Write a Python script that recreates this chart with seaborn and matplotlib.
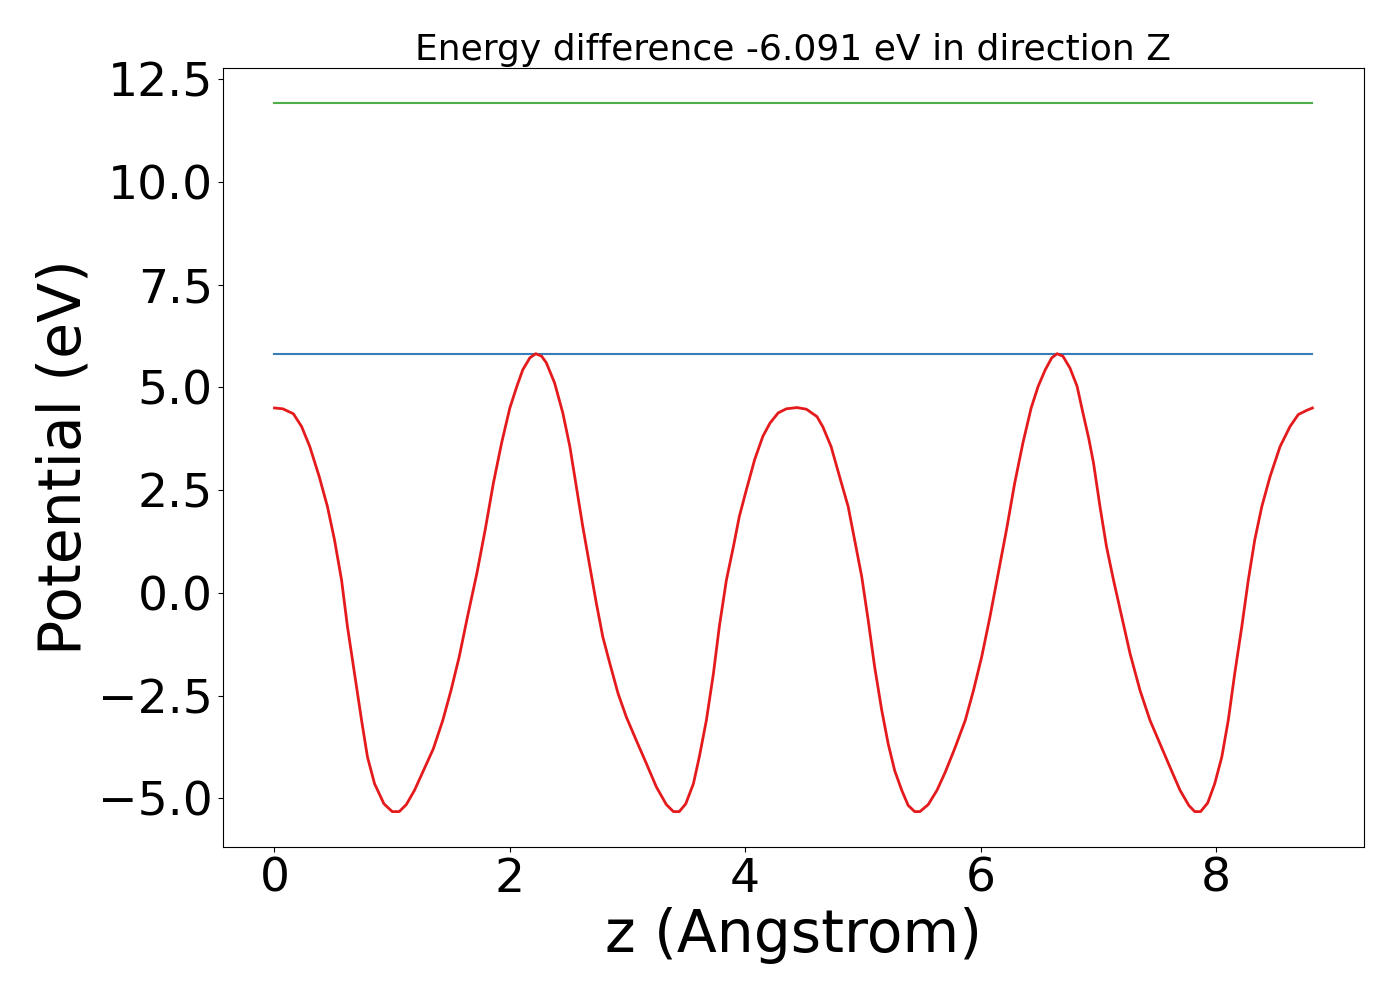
from matplotlib import pyplot as plt
import seaborn as sns
import numpy as np
import pandas as pd

# potential profile
z = [0.00, 0.07, 0.16, 0.23, 0.30, 0.38, 0.45, 0.51, 0.57, 0.62,
     0.68, 0.74, 0.79, 0.85, 0.93, 1.00, 1.06, 1.12, 1.19, 1.26,
     1.35, 1.43, 1.50, 1.57, 1.64, 1.72, 1.79, 1.86, 1.93, 2.00,
     2.06, 2.11, 2.17, 2.22, 2.27, 2.31, 2.38, 2.45, 2.51, 2.565,
     2.62, 2.68, 2.735, 2.79, 2.85, 2.92, 2.99, 3.075, 3.16, 3.245,
     3.33, 3.39, 3.44, 3.495, 3.56, 3.61, 3.67, 3.73, 3.78, 3.84,
     3.90, 3.95, 4.01, 4.08, 4.15, 4.21, 4.28, 4.35, 4.44, 4.52,
     4.61, 4.66, 4.73, 4.80, 4.875, 4.93, 4.99, 5.045, 5.10, 5.16,
     5.215, 5.27, 5.33, 5.385, 5.44, 5.485, 5.555, 5.63, 5.70, 5.78,
     5.87, 5.94, 6.01, 6.08, 6.15, 6.22, 6.29, 6.36, 6.43, 6.49,
     6.55, 6.605, 6.65, 6.70, 6.76, 6.82, 6.87, 6.92, 6.96, 7.015,
     7.07, 7.13, 7.20, 7.27, 7.355, 7.44, 7.525, 7.61, 7.695, 7.77,
     7.82, 7.87, 7.93, 7.99, 8.05, 8.105, 8.16, 8.22, 8.275, 8.33,
     8.39, 8.46, 8.545, 8.63, 8.70, 8.77, 8.82]
potential = [4.50, 4.48, 4.36, 4.05, 3.56, 2.83, 2.10, 1.29, 0.31, -0.82,
             -1.96, -3.10, -3.99, -4.64, -5.13, -5.32, -5.32, -5.15, -4.80, -4.36,
             -3.79, -3.10, -2.37, -1.55, -0.58, 0.48, 1.53, 2.67, 3.65, 4.50,
             5.03, 5.43, 5.72, 5.82, 5.76, 5.60, 5.11, 4.38, 3.56, 2.59,
             1.61, 0.64, -0.25, -1.07, -1.72, -2.45, -3.02, -3.59, -4.15, -4.72,
             -5.15, -5.32, -5.32, -5.13, -4.64, -3.99, -3.10, -1.96, -0.82, 0.31,
             1.13, 1.86, 2.51, 3.24, 3.81, 4.13, 4.38, 4.48, 4.51, 4.47,
             4.29, 4.04, 3.56, 2.85, 2.10, 1.29, 0.40, -0.66, -1.80, -2.85,
             -3.67, -4.32, -4.80, -5.17, -5.32, -5.32, -5.15, -4.80, -4.36, -3.79,
             -3.10, -2.37, -1.55, -0.58, 0.48, 1.53, 2.67, 3.65, 4.50, 5.03,
             5.43, 5.72, 5.82, 5.76, 5.47, 5.03, 4.38, 3.75, 3.16, 2.10,
             1.13, 0.31, -0.58, -1.47, -2.37, -3.10, -3.67, -4.24, -4.80, -5.17,
             -5.32, -5.32, -5.11, -4.64, -3.99, -3.10, -1.96, -0.82, 0.31, 1.29,
             2.10, 2.83, 3.56, 4.05, 4.34, 4.44, 4.50]

v_max = 5.82          # top of the barrier (blue line)
energy_diff = -6.091  # shown in the title
v_vacuum = 11.91      # green line

colors = sns.color_palette("Set1", 3)

df = pd.DataFrame({"z": z, "V": potential})
ends = [z[0], z[-1]]

fig, ax = plt.subplots(figsize=(14, 10), dpi=100)
fig.subplots_adjust(left=0.159, right=0.9745, top=0.932, bottom=0.153)

sns.lineplot(x=ends, y=[v_max, v_max], color=colors[1], lw=1.5, ax=ax)
sns.lineplot(x=ends, y=[v_vacuum, v_vacuum], color=colors[2], lw=1.5, ax=ax)
sns.lineplot(data=df, x="z", y="V", color=colors[0], lw=2, sort=False,
             estimator=None, ax=ax)

ax.set_title("Energy difference %.3f eV in direction Z" % energy_diff, fontsize=26)
ax.set_xlabel("z (Angstrom)", fontsize=42)
ax.set_ylabel("Potential (eV)", fontsize=42)
ax.tick_params(labelsize=34)
ax.set_yticks(np.arange(-5, 12.6, 2.5))
ax.set_xticks([0, 2, 4, 6, 8])

plt.savefig("out.png", dpi=100)
